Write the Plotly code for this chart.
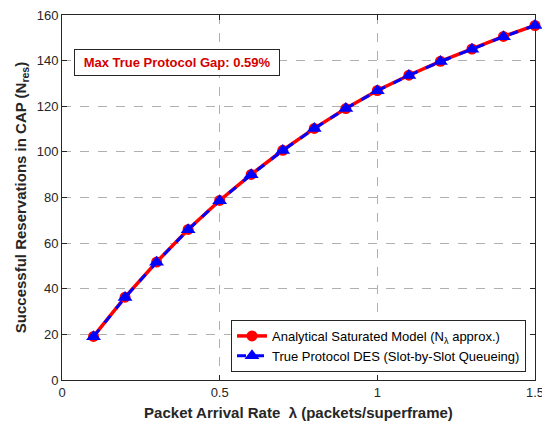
import plotly.graph_objects as go

# arrival rates (packets/superframe)
lam = [0.1, 0.2, 0.3, 0.4, 0.5, 0.6, 0.7, 0.8, 0.9, 1.0, 1.1, 1.2, 1.3, 1.4, 1.5]
# analytical saturated model
n_model = [19.1, 36.3, 51.7, 66.0, 78.7, 90.1, 100.7, 110.3, 119.0, 126.9, 133.6, 139.7, 145.1, 150.6, 155.4]
# true protocol DES
n_des = [19.0, 36.2, 51.6, 65.9, 78.6, 90.0, 100.6, 110.2, 119.0, 126.8, 133.5, 139.6, 145.0, 150.5, 155.4]

font = "Liberation Sans, Arial, sans-serif"

fig = go.Figure()
fig.add_trace(go.Scatter(
    x=lam, y=n_model, mode="lines+markers",
    name="Analytical Saturated Model (N<sub>λ</sub> approx.)",
    line=dict(color="#ff0000", width=3.5),
    marker=dict(symbol="circle", size=11, color="#ff0000"),
    cliponaxis=False,
))
fig.add_trace(go.Scatter(
    x=lam, y=n_des, mode="lines+markers",
    name="True Protocol DES (Slot-by-Slot Queueing)",
    line=dict(color="#0000ff", width=3, dash="dash"),
    marker=dict(symbol="triangle-up", size=13, color="#0000ff"),
    cliponaxis=False,
))

axis_common = dict(
    showline=True, linecolor="#262626", linewidth=1, mirror="ticks",
    ticks="inside", ticklen=5, tickcolor="#262626",
    showgrid=True, gridcolor="#b0b0b0", griddash="dash", gridwidth=1,
    zeroline=False, automargin=False, ticklabeloverflow="allow",
    tickfont=dict(family=font, size=13, color="#262626"),
)

fig.update_xaxes(
    range=[0, 1.5], tickvals=[0, 0.5, 1, 1.5], ticktext=["0", "0.5", "1", "1.5"],
    title=dict(text="<b>Packet Arrival Rate  λ (packets/superframe)</b>",
               font=dict(family=font, size=15, color="#262626"), standoff=8),
    **axis_common,
)
fig.update_yaxes(
    range=[0, 160], tickvals=list(range(0, 161, 20)),
    title=dict(text="<b>Successful Reservations in CAP (N<sub>res</sub>)</b>",
               font=dict(family=font, size=15, color="#262626"), standoff=6),
    **axis_common,
)

fig.add_annotation(
    x=0.025, y=0.87, xref="paper", yref="paper", xanchor="left", yanchor="middle",
    text="&nbsp;<b>Max True Protocol Gap: 0.59%</b>&nbsp;", showarrow=False,
    font=dict(family=font, size=13, color="#d40000"),
    bgcolor="white", bordercolor="#262626", borderwidth=1, borderpad=5,
)

# page body has an 8px margin, so the figure is shifted by 8px
fig.update_layout(
    width=542, height=415,
    margin=dict(l=54, r=15, t=7, b=43),
    paper_bgcolor="white", plot_bgcolor="white",
    showlegend=True,
    legend=dict(
        x=0.981, y=0.022, xanchor="right", yanchor="bottom",
        bgcolor="white", bordercolor="#262626", borderwidth=1,
        font=dict(family=font, size=13, color="#000000"),
        itemwidth=30, tracegroupgap=0,
    ),
)

fig.write_html("out.html")
